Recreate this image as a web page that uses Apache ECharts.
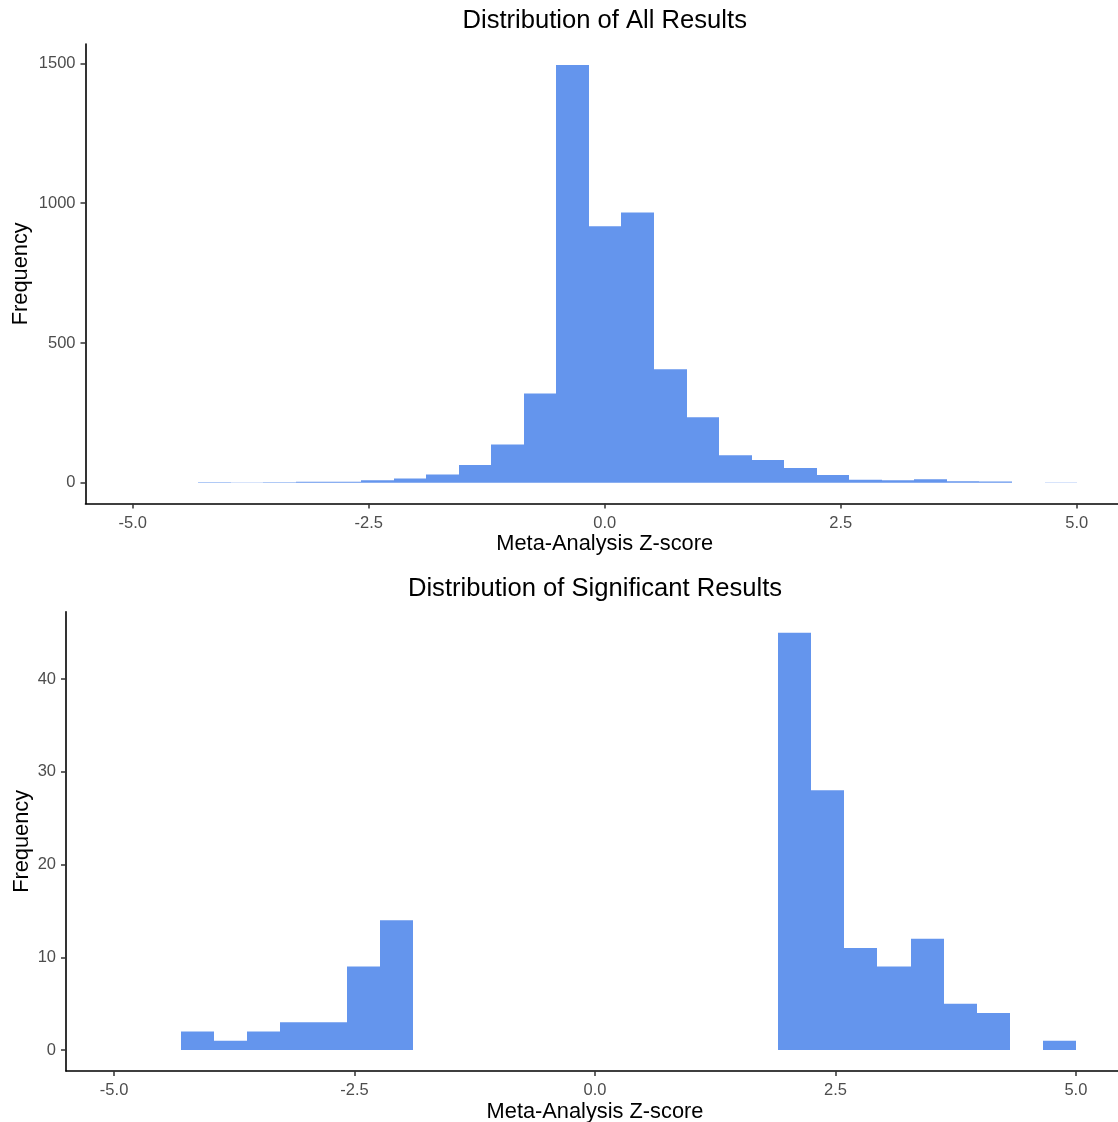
<!DOCTYPE html>
<html><head><meta charset="utf-8">
<script src="https://cdn.jsdelivr.net/npm/echarts@6/dist/echarts.min.js"></script>
<style>html,body{margin:0;padding:0;background:#fff}#chart{width:1118px;height:1122px}</style>
</head><body><div id="chart"></div>
<script>
// Histogram bin edges (Meta-Analysis Z-score)
const binEdges = [-4.305, -3.9602, -3.6154, -3.2706, -2.9258, -2.581, -2.2362, -1.8914, -1.5466, -1.2018,
  -0.857, -0.5122, -0.1674, 0.1774, 0.5222, 0.867, 1.2118, 1.5566, 1.9014, 2.2462,
  2.591, 2.9358, 3.2806, 3.6254, 3.9702, 4.315, 4.6598, 5.0046];
// Frequencies, all results
const allCounts = [2, 1, 2, 3, 3, 9, 15, 29, 63, 137, 319, 1495, 918, 967, 406, 234, 98, 81, 53, 28, 11, 9, 12, 5, 4, 0, 1];
// Frequencies, significant results
const sigCounts = [2, 1, 2, 3, 3, 9, 14, 0, 0, 0, 0, 0, 0, 0, 0, 0, 0, 0, 45, 28, 11, 9, 12, 5, 4, 0, 1];
const xTicks = [-5, -2.5, 0, 2.5, 5];
const allYTicks = [0, 500, 1000, 1500];
const sigYTicks = [0, 10, 20, 30, 40];
const titles = ['Distribution of All Results', 'Distribution of Significant Results'];
const xTitle = 'Meta-Analysis Z-score';
const yTitle = 'Frequency';

const FONT = 'Liberation Sans, Arial, sans-serif';
const BAR = '#6495ED';

function xAxisCfg(gridIndex, gap) {
  return {
    type: 'value', gridIndex, min: -5.5, max: 5.5,
    name: xTitle, nameLocation: 'middle', nameGap: gap, nameMoveOverlap: false,
    nameTextStyle: { fontFamily: FONT, fontSize: 21.8, color: '#000', verticalAlign: 'middle' },
    axisLine: { onZero: false, lineStyle: { color: '#000', width: 1.6 } },
    axisTick: { show: true, length: 5, customValues: xTicks, lineStyle: { color: '#333', width: 1.5 } },
    axisLabel: { customValues: xTicks, margin: 11, fontFamily: FONT, fontSize: 16.5, color: '#4D4D4D',
      formatter: v => v.toFixed(1) },
    splitLine: { show: false }
  };
}
function yAxisCfg(gridIndex, min, max, ticks, gap) {
  return {
    type: 'value', gridIndex, min, max,
    name: yTitle, nameLocation: 'middle', nameGap: gap, nameRotate: 90, nameMoveOverlap: false,
    nameTextStyle: { fontFamily: FONT, fontSize: 21.8, color: '#000', verticalAlign: 'middle' },
    axisLine: { show: true, onZero: false, lineStyle: { color: '#000', width: 1.6 } },
    axisTick: { show: true, length: 5, customValues: ticks, lineStyle: { color: '#333', width: 1.5 } },
    axisLabel: { customValues: ticks, margin: 10, fontFamily: FONT, fontSize: 16.5, color: '#4D4D4D',
      formatter: v => String(v) },
    splitLine: { show: false }
  };
}
function histSeries(counts, idx) {
  const data = counts.map((c, i) => [binEdges[i], binEdges[i + 1], c]);
  return {
    type: 'custom', xAxisIndex: idx, yAxisIndex: idx, data,
    encode: { x: [0, 1], y: 2 }, clip: true,
    renderItem: (params, api) => {
      const c = api.value(2);
      if (!c) return null;
      const p0 = api.coord([api.value(0), c]);
      const p1 = api.coord([api.value(1), 0]);
      const x0 = Math.round(p0[0]), x1 = Math.round(p1[0]);
      return { type: 'rect', shape: { x: x0, y: p0[1], width: x1 - x0, height: p1[1] - p0[1] },
        style: { fill: BAR } };
    }
  };
}

const chart = echarts.init(document.getElementById('chart'), null, { renderer: 'canvas' });
chart.setOption({
  animation: false,
  backgroundColor: '#fff',
  grid: [
    { left: 85.5, top: 44, width: 1038.4, height: 459.6, outerBoundsMode: 'none', containLabel: false },
    { left: 66, top: 611.8, width: 1058, height: 459.1, outerBoundsMode: 'none', containLabel: false }
  ],
  graphic: [
    { type: 'text', x: 604.7, y: 21, style: { text: titles[0], fontFamily: FONT, fontSize: 25.6, fill: '#000', textAlign: 'center', textVerticalAlign: 'middle' } },
    { type: 'text', x: 595, y: 589, style: { text: titles[1], fontFamily: FONT, fontSize: 25.6, fill: '#000', textAlign: 'center', textVerticalAlign: 'middle' } }
  ],
  xAxis: [xAxisCfg(0, 40), xAxisCfg(1, 41)],
  yAxis: [yAxisCfg(0, -74.75, 1569.75, allYTicks, 65), yAxisCfg(1, -2.25, 47.25, sigYTicks, 44.5)],
  series: [histSeries(allCounts, 0), histSeries(sigCounts, 1)]
});
</script></body></html>
